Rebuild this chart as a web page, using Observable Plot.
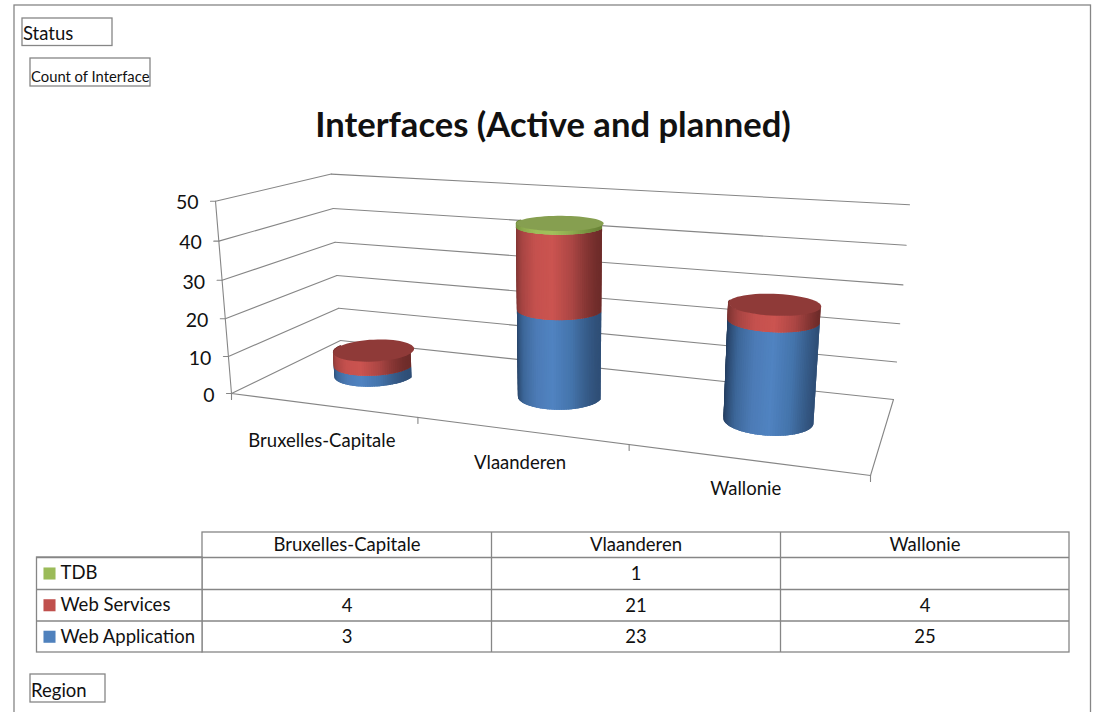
<!DOCTYPE html>
<html><head><meta charset="utf-8">
<style>html,body{margin:0;padding:0;background:#fff;overflow:hidden}</style>
<script src="https://cdn.jsdelivr.net/npm/d3@7"></script>
<script src="https://cdn.jsdelivr.net/npm/@observablehq/plot@0.6"></script>
</head><body><div id="chart"></div>
<script>
// ---- data ----
const regions = ["Bruxelles-Capitale", "Vlaanderen", "Wallonie"];
const webApplication = [3, 23, 25];
const webServices = [4, 21, 4];
const tdb = [null, 1, null];
const valueTicks = [0, 10, 20, 30, 40, 50];
const seriesNames = ["Web Application", "Web Services", "TDB"];
const seriesValues = [webApplication, webServices, tdb];
const legendColors = ["#4f81bd", "#c0504d", "#9bbb59"];
const topColors = ["#3b6089", "#8f3a38", "#869f50"];
const sideStops = [
  ["#21395a", "#3c6698", "#4c7bb6", "#5083c1", "#4474ab", "#2f4f77"],
  ["#74302e", "#a84543", "#c5514e", "#cb5450", "#ab4644", "#6e2c2a"],
  ["#6d8838", "#8aa84c", "#9dbd59", "#a1c05b", "#8dab4f", "#6a8437"]
];
const headers = {status: "Status", measure: "Count of Interface", axis: "Region"};
const title = "Interfaces (Active and planned)";

// ---- view projection of the 3-D plot box: floor homography + vertical column ----
function unitSquareTo([p0, p1, p2, p3]) {
  const [x0, y0] = p0, [x1, y1] = p1, [x2, y2] = p2, [x3, y3] = p3;
  const dx1 = x1 - x2, dx2 = x3 - x2, sx = x0 - x1 + x2 - x3;
  const dy1 = y1 - y2, dy2 = y3 - y2, sy = y0 - y1 + y2 - y3;
  const den = dx1 * dy2 - dx2 * dy1;
  const g = (sx * dy2 - dx2 * sy) / den, h = (dx1 * sy - sx * dy1) / den;
  const a = x1 - x0 + g * x1, b = x3 - x0 + h * x3, d = y1 - y0 + g * y1, e = y3 - y0 + h * y3;
  return {a, b, c: x0, d, e, f: y0, g, h};
}
const floorCorners = [[231, 393], [870, 475], [893, 399], [340, 340]];
const H = unitSquareTo(floorCorners);
const vMax = valueTicks[valueTicks.length - 1];
// vertical column of the camera, solved from the two top corners of the near-left and far-right edges
const topNear = [215, 201], topFar = [909, 204];
const Wfar = H.g + H.h + 1;
const colC = (-(floorCorners[0][0] - topNear[0]) - (topFar[0] - floorCorners[2][0]) * Wfar) / (topFar[0] - topNear[0]);
const colA = (topNear[0] - floorCorners[0][0]) + topNear[0] * colC;
const colB = ((topNear[1] - floorCorners[0][1]) + topNear[1] * colC + (topFar[1] - floorCorners[2][1]) * Wfar + topFar[1] * colC) / 2;
function P(u, w, v) {
  const t = v / vMax, q = H.g * u + H.h * w + 1 + colC * t;
  return [(H.a * u + H.b * w + H.c + colA * t) / q, (H.d * u + H.e * w + H.f + colB * t) / q];
}
const catU = i => (i + 0.5) / regions.length;
const radiusU = 0.0665, radiusW = 0.2;

// ---- geometry rows derived from the data ----
const segLines = [];
const addSeg = (a, b, id) => { segLines.push({id, x: a[0], y: a[1]}, {id, x: b[0], y: b[1]}); };
valueTicks.forEach(v => {
  addSeg(P(0, 0, v), P(0, 1, v), "wall" + v);
  addSeg(P(0, 1, v), P(1, 1, v), "back" + v);
  const p = P(0, 0, v);
  addSeg([p[0] - 5, p[1]], p, "tick" + v);
});
addSeg(P(0, 0, 0), P(0, 0, vMax), "axis");
addSeg(P(0, 0, 0), P(1, 0, 0), "front");
addSeg(P(1, 0, 0), P(1, 1, 0), "side");
d3.range(regions.length + 1).forEach(i => {
  const p = P(i / regions.length, 0, 0);
  addSeg(p, [p[0], p[1] + 6], "ctick" + i);
});

const strips = [], tops = [];
const N = 60;
regions.forEach((name, c) => {
  let base = 0, lastTop = null;
  seriesValues.forEach((vals, s) => {
    const val = vals[c];
    if (val == null) return;
    const ramp = d3.piecewise(d3.interpolateRgb, sideStops[s]);
    const at = (th, v) => P(catU(c) + radiusU * Math.cos(th), 0.5 + radiusW * Math.sin(th), v);
    const th0 = Math.PI - 0.1, span = Math.PI + 0.2;
    for (let k = 0; k < N; k++) {
      const t0 = th0 + span * k / N;
      const t1 = th0 + span * Math.min(N, k + 2.5) / N;
      const tm = th0 + span * (k + 0.5) / N;
      const color = ramp(Math.max(0, Math.min(1, (Math.cos(tm) + 1) / 2)));
      for (const th of [t0, t1]) {
        const lo = at(th, base), hi = at(th, base + val);
        strips.push({z: `${c}-${s}-${k}`, x1: lo[0], y1: lo[1], x2: hi[0], y2: hi[1], color});
      }
    }
    base += val;
    lastTop = {s, at, v: base};
  });
  d3.range(N + 1).forEach(k => {
    const th = 2 * Math.PI * k / N, p = lastTop.at(th, lastTop.v);
    tops.push({id: c, x: p[0], y: p[1], color: topColors[lastTop.s]});
  });
});

// ---- table + furniture layout ----
const tCols = [202, 491, 780, 1069], tLeft = 36.5;
const tRows = [532, 557, 589, 620.5, 652];
const outline = "#868686";
const boxes = [
  {x1: 14, x2: 1090.5, y1: 5, y2: 740},
  {x1: 22, x2: 112, y1: 18, y2: 45.5},
  {x1: 30, x2: 150, y1: 58, y2: 86},
  {x1: 30, x2: 105, y1: 674, y2: 702},
  {x1: tCols[0], x2: tCols[3], y1: tRows[0], y2: tRows[4]},
  {x1: tLeft, x2: tCols[0], y1: tRows[1], y2: tRows[4]}
];
const tableOrder = [2, 1, 0];
const tableRules = [];
tRows.slice(1, 4).forEach(y => tableRules.push({x1: tLeft, x2: tCols[3], y}));
const cells = [];
tableOrder.forEach((s, r) => regions.forEach((_, c) => {
  const v = seriesValues[s][c];
  if (v != null) cells.push({x: (tCols[c] + tCols[c + 1]) / 2, y: (tRows[r + 1] + tRows[r + 2]) / 2 + 0.5, t: String(v)});
}));
const heads = regions.map((t, c) => ({x: (tCols[c] + tCols[c + 1]) / 2, y: (tRows[0] + tRows[1]) / 2, t}));
const legend = tableOrder.map((s, r) => ({y: (tRows[r + 1] + tRows[r + 2]) / 2, t: seriesNames[s], color: legendColors[s]}));
const valueLabels = valueTicks.map(v => { const p = P(0, 0, v); return {x: p[0] - 17, y: p[1] + 2, t: String(v)}; });
const catLabels = regions.map((t, i) => { const u = catU(i), p = P(u, 0, 0); return {x: p[0], y: p[1] + 38 - 10 * u, t}; });

const font = "Lato";
const ink = "#111";
const chart = Plot.plot({
  width: 1096, height: 712,
  margin: 0, marginTop: 0, marginRight: 0, marginBottom: 0, marginLeft: 0,
  style: {fontFamily: font, background: "#fff", color: ink},
  x: {type: "linear", domain: [0, 1096], range: [0, 1096], axis: null},
  y: {type: "linear", domain: [0, 712], range: [0, 712], axis: null},
  color: {type: "identity"},
  marks: [
    Plot.rect(boxes, {x1: "x1", x2: "x2", y1: "y1", y2: "y2", fill: "#fff", stroke: outline, strokeWidth: 1.3}),
    Plot.ruleY(tableRules, {x1: "x1", x2: "x2", y: "y", stroke: outline, strokeWidth: 1.3}),
    Plot.ruleX(tCols.slice(1, 3), {y1: tRows[0], y2: tRows[4], stroke: outline, strokeWidth: 1.3}),
    Plot.line(segLines, {x: "x", y: "y", z: "id", stroke: outline, strokeWidth: 1.1}),
    Plot.area(strips, {x1: "x1", y1: "y1", x2: "x2", y2: "y2", z: "z", fill: "color"}),
    Plot.line(tops, {x: "x", y: "y", z: "id", fill: "color", stroke: "none"}),
    Plot.text([title], {x: 552.5, y: 125, text: d => d, fontSize: 34.6, fontWeight: 700, fill: ink}),
    Plot.text([headers.status], {x: 22.5, y: 33.5, text: d => d, fontSize: 18.5, textAnchor: "start", fill: ink}),
    Plot.text([headers.measure], {x: 30.5, y: 77, text: d => d, fontSize: 14.8, textAnchor: "start", fill: ink}),
    Plot.text([headers.axis], {x: 30.5, y: 690.5, text: d => d, fontSize: 18.5, textAnchor: "start", fill: ink}),
    Plot.text(valueLabels, {x: "x", y: "y", text: "t", fontSize: 19.5, textAnchor: "end", fill: ink}),
    Plot.text(catLabels, {x: "x", y: "y", text: "t", fontSize: 18.5, fill: ink}),
    Plot.text(heads, {x: "x", y: "y", text: "t", fontSize: 18.5, fill: ink}),
    Plot.text(cells, {x: "x", y: "y", text: "t", fontSize: 18.5, fill: ink}),
    Plot.dot(legend, {x: 49, y: "y", symbol: "square", r: 6.8, fill: "color", stroke: "none"}),
    Plot.text(legend, {x: 60, y: "y", text: "t", fontSize: 18.5, textAnchor: "start", fill: ink})
  ]
});
document.getElementById("chart").appendChild(chart);
</script></body></html>
